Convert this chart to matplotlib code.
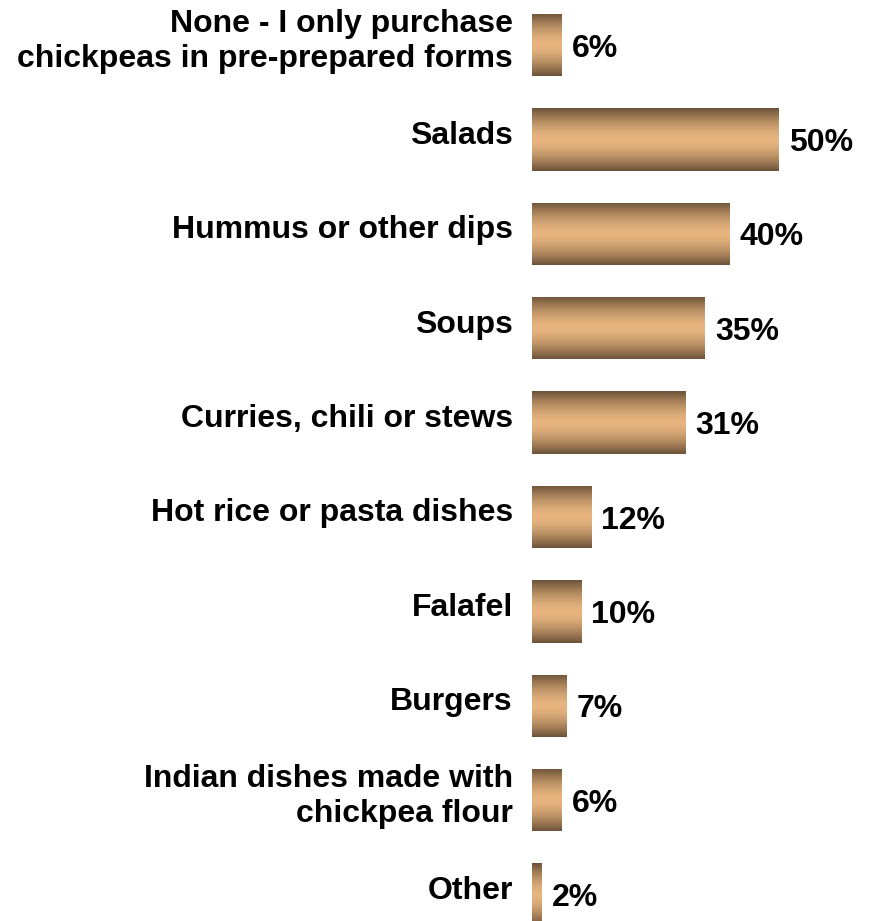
import numpy as np
import matplotlib
matplotlib.use('Agg')
from matplotlib import pyplot as plt
from matplotlib.patches import Rectangle

categories = [
    'None - I only purchase\nchickpeas in pre-prepared forms',
    'Salads',
    'Hummus or other dips',
    'Soups',
    'Curries, chili or stews',
    'Hot rice or pasta dishes',
    'Falafel',
    'Burgers',
    'Indian dishes made with\nchickpea flour',
    'Other',
]
values = [6, 50, 40, 35, 31, 12, 10, 7, 6, 2]

plt.rcParams['font.family'] = ['Liberation Sans', 'DejaVu Sans']

fig = plt.figure(figsize=(8.72, 9.21), dpi=100)
ax = fig.add_axes([532 / 872, 0, 340 / 872, 1])
ax.set_xlim(0, 340 / 4.94)
ax.set_ylim(9.28, -0.477)
ax.axis('off')

# brown-tan-brown vertical shading for each bar
dark = np.array([0.42, 0.32, 0.22])
light = np.array([0.91, 0.71, 0.50])
yy = np.linspace(0, 1, 200)
t = np.abs(yy - 0.5) * 2
w = t ** 1.6
grad = (light[None, :] * (1 - w[:, None]) + dark[None, :] * w[:, None])[:, None, :]

bar_h = 0.66
for i, (cat, val) in enumerate(zip(categories, values)):
    rect = Rectangle((0, i - bar_h / 2), val, bar_h, facecolor='none', edgecolor='none')
    ax.add_patch(rect)
    im = ax.imshow(grad, extent=(0, val, i + bar_h / 2, i - bar_h / 2),
                   aspect='auto', interpolation='bilinear', zorder=2)
    im.set_clip_path(rect)

    ax.annotate(cat, xy=(0, i), xytext=(-13.7, 2.6), textcoords='offset points',
                ha='right', va='center', fontsize=23, fontweight='bold',
                linespacing=1.2, annotation_clip=False)
    ax.annotate(f'{val}%', xy=(val, i), xytext=(7.2, -2.6), textcoords='offset points',
                ha='left', va='center', fontsize=23, fontweight='bold',
                annotation_clip=False)

plt.savefig('out.png', dpi=100)
